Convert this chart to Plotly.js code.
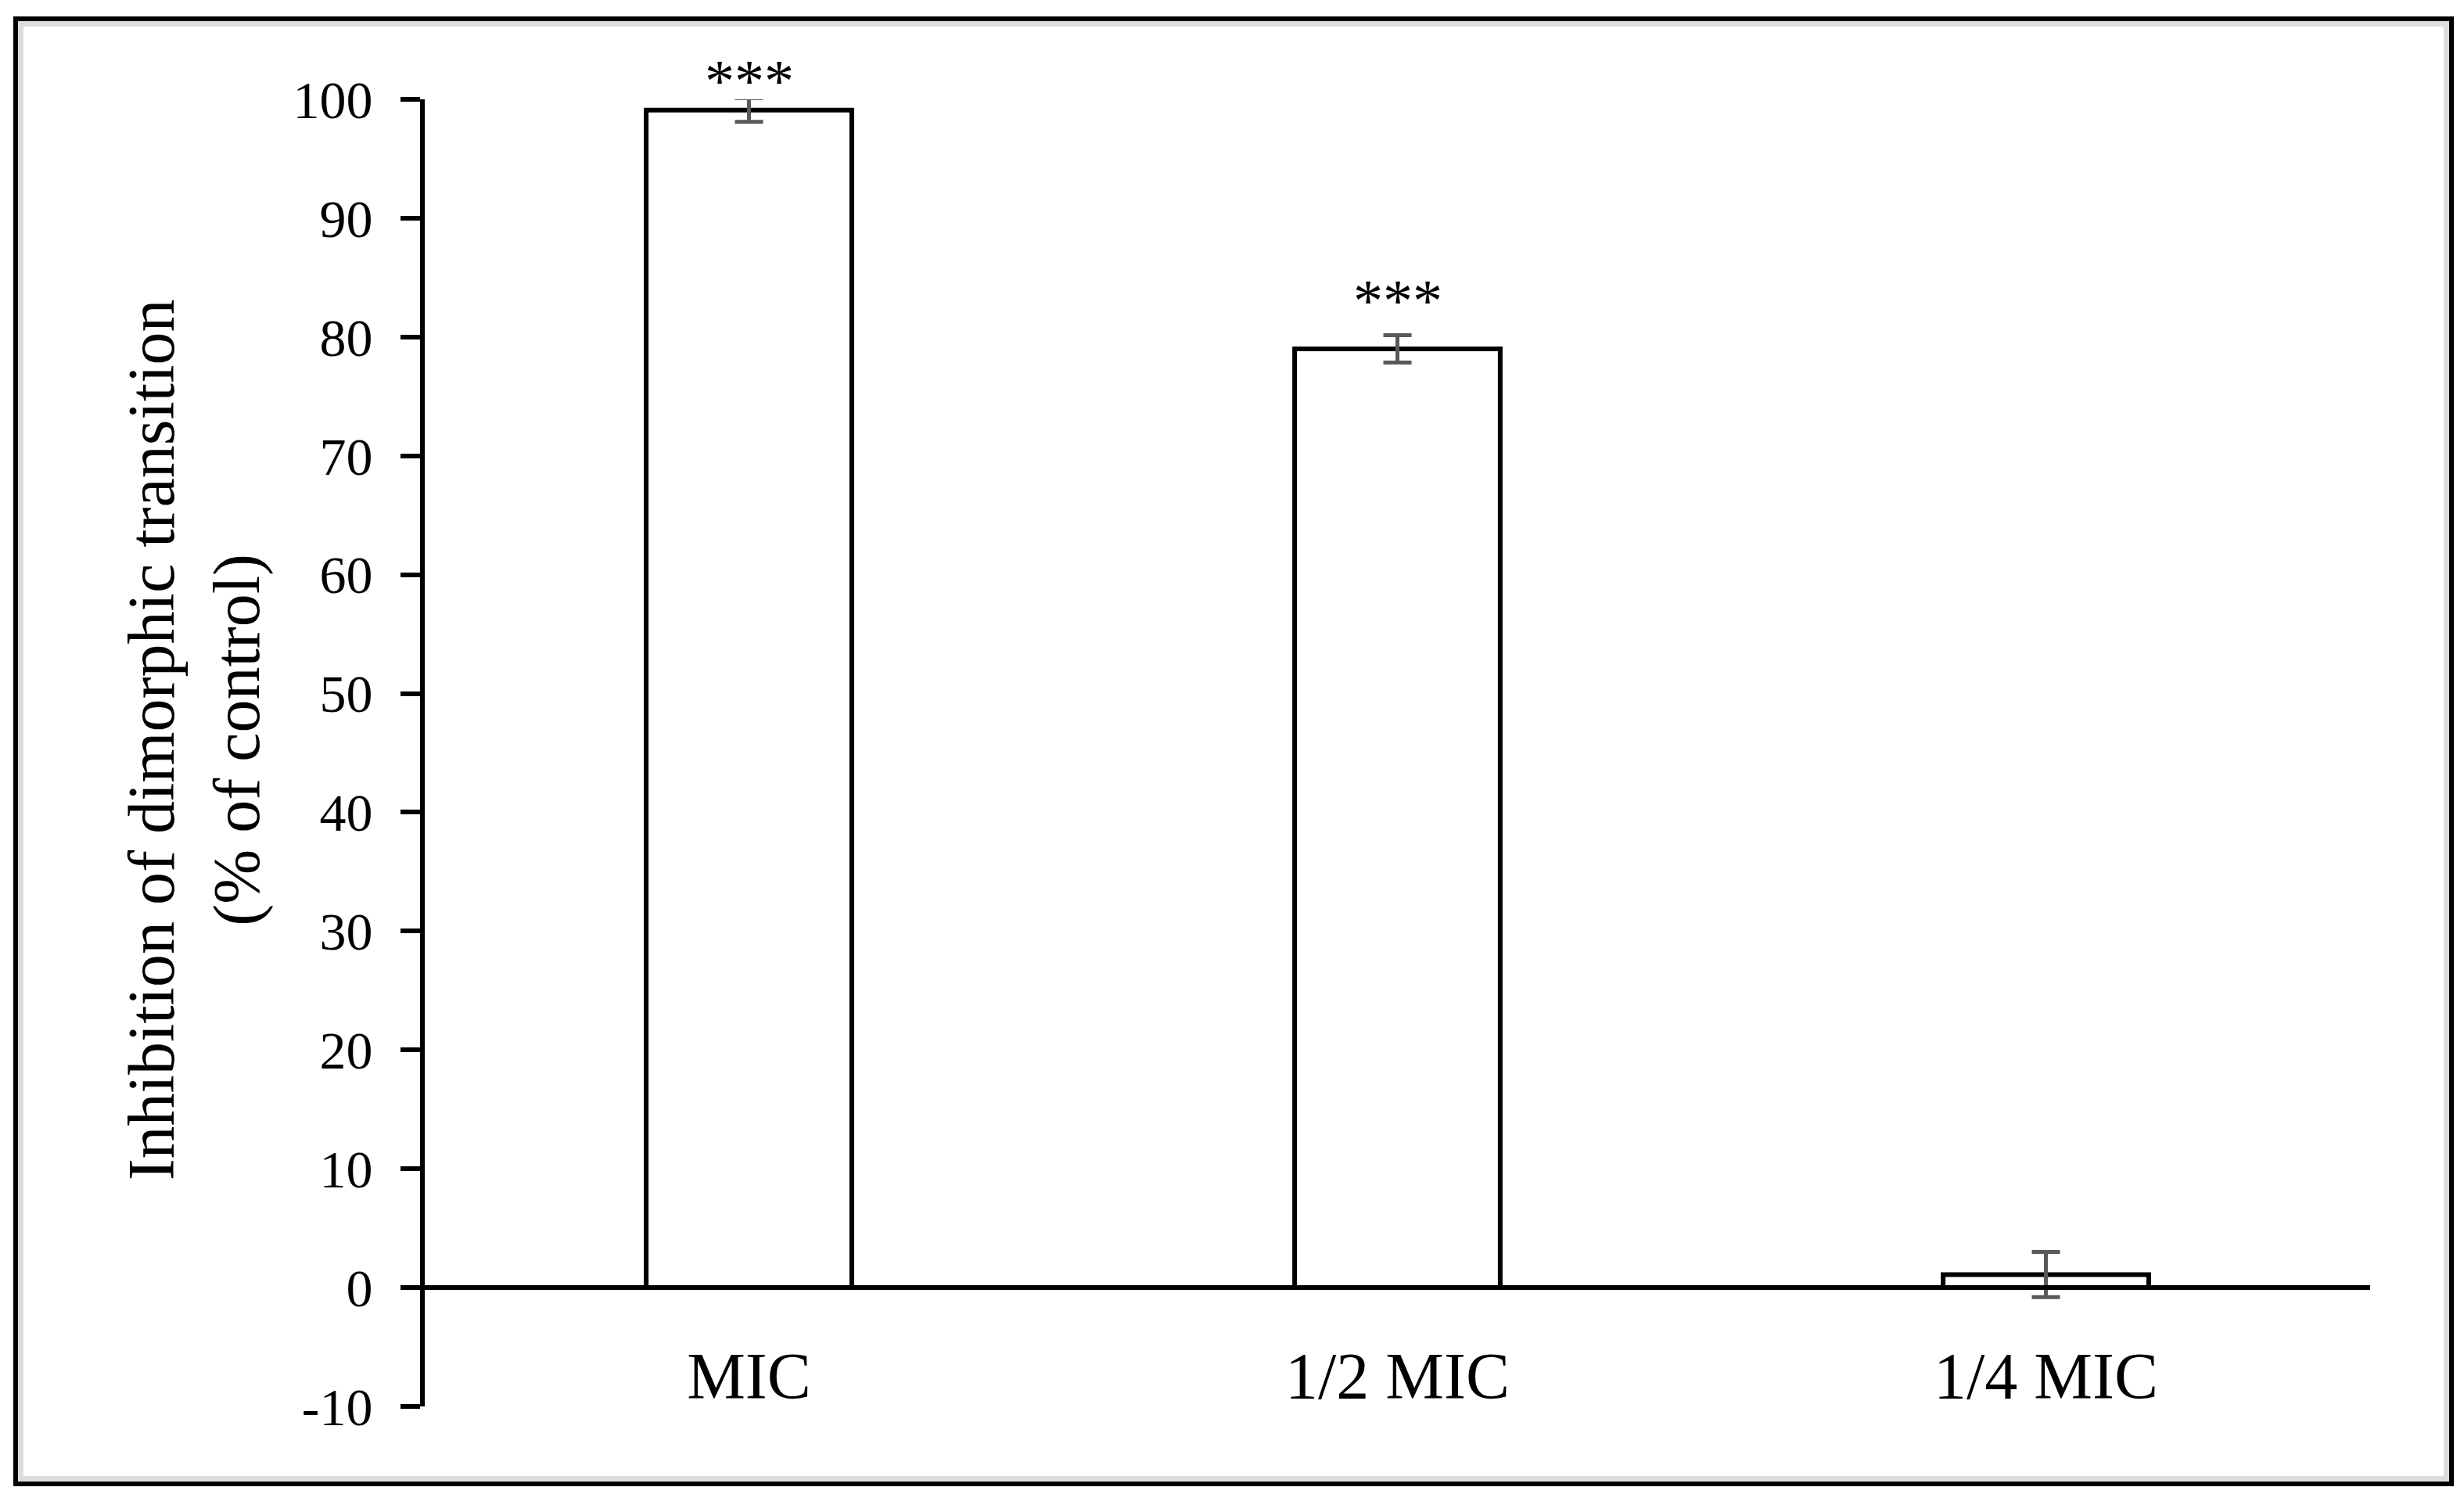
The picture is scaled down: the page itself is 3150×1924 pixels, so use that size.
<!DOCTYPE html>
<html>
<head>
<meta charset="utf-8">
<script src="https://cdn.plot.ly/plotly-3.0.1.min.js"></script>
<style>
  html, body { margin: 0; padding: 0; background: #fff; }
  #wrap { position: relative; width: 3150px; height: 1924px; }
  #chart { position: absolute; left: 0; top: 0; width: 3150px; height: 1924px; }
  #frame { position: absolute; left: 17px; top: 21px; width: 3108px; height: 1867px;
           border: 6px solid #000; box-shadow: inset 0 0 0 7px #dcdcdc; pointer-events: none; }
</style>
</head>
<body>
<div id="wrap">
  <div id="chart"></div>
  <div id="frame"></div>
</div>
<script>
// ---- data ----
const categories = ['MIC', '1/2 MIC', '1/4 MIC'];
const inhibition = [99.1, 79.0, 1.1];          // % of control
const stdError   = [1.0, 1.15, 1.9];
const significance = ['***', '***', ''];
const yTickValues = [-10, 0, 10, 20, 30, 40, 50, 60, 70, 80, 90, 100];
const yTickText   = ['-10', '0', '10', '20', '30', '40', '50', '60', '70', '80', '90', '100'];
const yTitleLines = ['Inhibition of dimorphic transition', '(% of control)'];

const FONT = 'Liberation Serif, "Times New Roman", serif';
const yMin = -10, yMax = 100;

const trace = {
  type: 'bar',
  x: categories,
  y: inhibition,
  marker: { color: '#ffffff', line: { color: '#000000', width: 6 } },
  error_y: { type: 'data', array: stdError, visible: true, color: '#595959', thickness: 5, width: 18 },
  cliponaxis: false,
  hoverinfo: 'x+y'
};

const annotations = [];
categories.forEach((c, i) => {
  if (significance[i]) {
    // star label above the error bar, kept inside the small top margin
    const yv = Math.min(inhibition[i] + stdError[i] + 2.9, yMax + 1.6);
    annotations.push({
      x: c, y: (yv - yMin) / (yMax - yMin), xref: 'x', yref: 'paper',
      text: significance[i], showarrow: false, yanchor: 'middle', xanchor: 'center',
      font: { family: FONT, size: 76, color: '#000' }
    });
  }
});
annotations.push({
  xref: 'paper', yref: 'paper', x: -0.1405, y: 0.51, xanchor: 'center', yanchor: 'middle',
  text: yTitleLines[0], textangle: -90, showarrow: false,
  font: { family: FONT, size: 84, color: '#000' }
});
annotations.push({
  xref: 'paper', yref: 'paper', x: -0.0965, y: 0.51, xanchor: 'center', yanchor: 'middle',
  text: yTitleLines[1], textangle: -90, showarrow: false,
  font: { family: FONT, size: 84, color: '#000' }
});

const layout = {
  width: 3150, height: 1924,
  margin: { l: 543, r: 120, t: 127, b: 126, pad: 0 },
  paper_bgcolor: '#ffffff', plot_bgcolor: '#ffffff',
  font: { family: FONT, color: '#000' },
  showlegend: false,
  bargap: 0.683,
  xaxis: {
    type: 'category', range: [-0.5, categories.length - 0.5],
    anchor: 'free', position: (0 - yMin) / (yMax - yMin),
    showline: true, linecolor: '#000', linewidth: 6,
    ticks: '', showgrid: false, zeroline: false,
    tickfont: { family: FONT, size: 84, color: '#000' },
    ticklabelstandoff: 38
  },
  yaxis: {
    range: [yMin, yMax], tickmode: 'array', tickvals: yTickValues, ticktext: yTickText,
    showline: true, linecolor: '#000', linewidth: 6,
    ticks: 'outside', ticklen: 25, tickwidth: 6, tickcolor: '#000',
    showgrid: false, zeroline: false,
    tickfont: { family: FONT, size: 68, color: '#000' },
    ticklabelstandoff: 22
  },
  annotations: annotations
};

Plotly.newPlot('chart', [trace], layout, { displayModeBar: false, staticPlot: true });
</script>
</body>
</html>
